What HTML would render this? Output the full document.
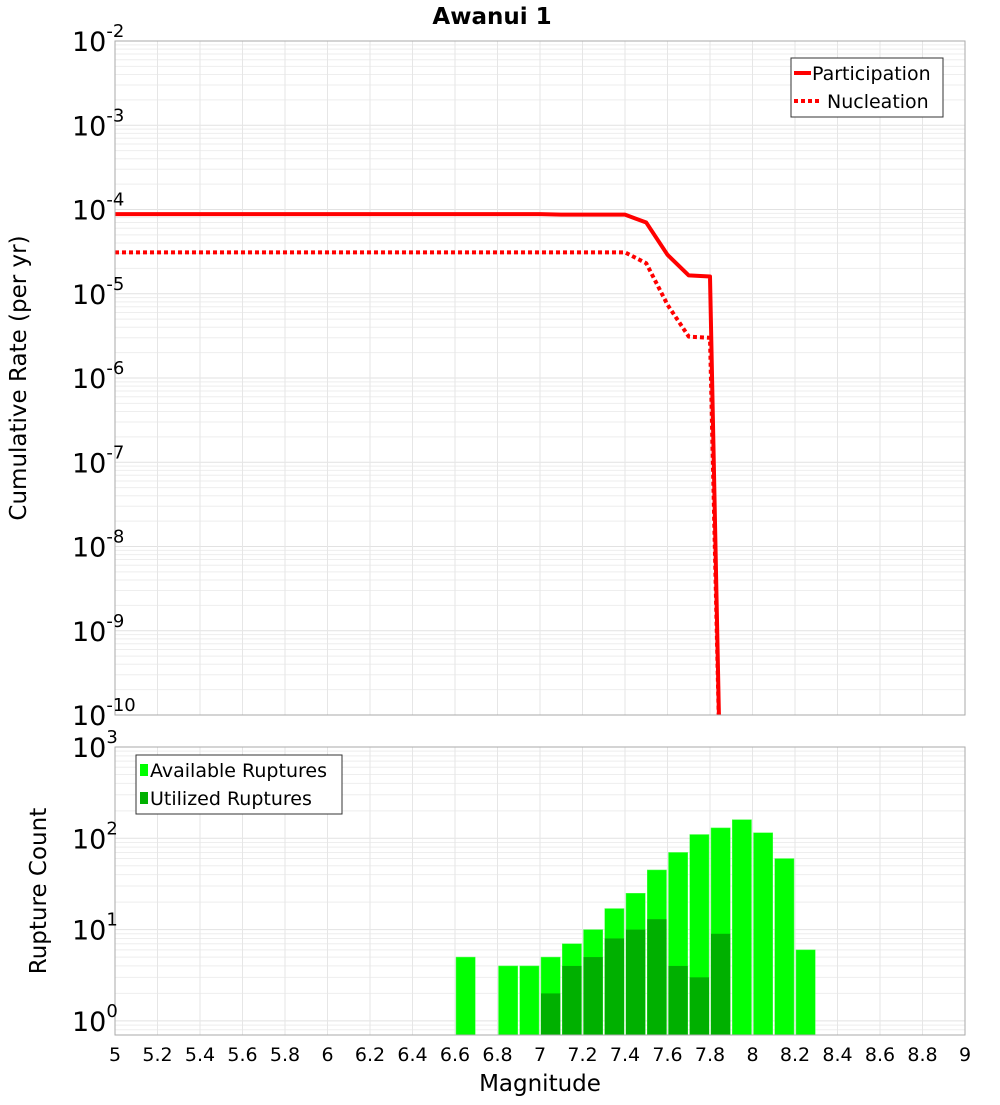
<!DOCTYPE html>
<html><head><meta charset="utf-8"><style>
body{margin:0;background:#fff}
text{font-family:"DejaVu Sans","Liberation Sans",sans-serif}
</style></head><body>
<svg id="c" width="1000" height="1100" xmlns="http://www.w3.org/2000/svg"></svg>
<script>
const magX=[5,5.1,5.2,5.3,5.4,5.5,5.6,5.7,5.8,5.9,6,6.1,6.2,6.3,6.4,6.5,6.6,6.7,6.8,6.9,7,7.1,7.2,7.3,7.4,7.5,7.6,7.7,7.8,7.85];
const partic=[8.8e-5,8.8e-5,8.8e-5,8.8e-5,8.8e-5,8.8e-5,8.8e-5,8.8e-5,8.8e-5,8.8e-5,8.8e-5,8.8e-5,8.8e-5,8.8e-5,8.8e-5,8.8e-5,8.8e-5,8.8e-5,8.8e-5,8.8e-5,8.8e-5,8.7e-5,8.7e-5,8.7e-5,8.7e-5,7e-5,2.9e-5,1.65e-5,1.6e-5,1e-11];
const nucl=[3.1e-5,3.1e-5,3.1e-5,3.1e-5,3.1e-5,3.1e-5,3.1e-5,3.1e-5,3.1e-5,3.1e-5,3.1e-5,3.1e-5,3.1e-5,3.1e-5,3.1e-5,3.1e-5,3.1e-5,3.1e-5,3.1e-5,3.1e-5,3.1e-5,3.1e-5,3.1e-5,3.1e-5,3.1e-5,2.3e-5,7.4e-6,3.1e-6,3e-6,1e-11];
const binCenters=[6.65,6.85,6.95,7.05,7.15,7.25,7.35,7.45,7.55,7.65,7.75,7.85,7.95,8.05,8.15,8.25];
const available=[5,4,4,5,7,10,17,25,45,70,110,130,160,115,60,6];
const utilized=[0,0,0,2,4,5,8,10,13,4,3,9,0,0,0,0];
const xTicks=[5,5.2,5.4,5.6,5.8,6,6.2,6.4,6.6,6.8,7,7.2,7.4,7.6,7.8,8,8.2,8.4,8.6,8.8,9];
const topExp=[-2,-3,-4,-5,-6,-7,-8,-9,-10];
const botExp=[3,2,1,0];

const NS="http://www.w3.org/2000/svg",svg=document.getElementById('c');
function el(t,a,p){const e=document.createElementNS(NS,t);for(const k in a)e.setAttribute(k,a[k]);(p||svg).appendChild(e);return e;}
const L=115,R=965;
const X=m=>L+(m-5)/4*(R-L);
const T1=41,B1=715,Y1=v=>T1+(-2-Math.log10(v))*(B1-T1)/8;
const T2=747,B2=1035,Y2=v=>T2+(3-Math.log10(v))*91.3;

function grid(top,bot,Yf,eMin,eMax){
  const g=el('g',{});
  for(let e=eMin;e<eMax;e++)for(let k=1;k<10;k++){const y=Yf(k*Math.pow(10,e));if(y<top||y>bot)continue;
    el('line',{x1:L,x2:R,y1:y,y2:y,stroke:k==1?'#e2e2e2':'#eeeeee','stroke-width':1},g);}
  xTicks.forEach(t=>{const x=X(t);el('line',{x1:x,x2:x,y1:top,y2:bot,stroke:'#e6e6e6','stroke-width':1},g);});
}
grid(T1,B1,Y1,-10,-2);grid(T2,B2,Y2,-1,3);

const clip=el('clipPath',{id:'cp1'});el('rect',{x:L,y:T1,width:R-L,height:B1-T1},clip);
function line(vals,dash,name){const p=el('polyline',{points:magX.map((m,i)=>X(m)+','+Y1(vals[i])).join(' '),fill:'none',stroke:'#ff0000','stroke-width':4,'clip-path':'url(#cp1)','stroke-linejoin':'round'});
  if(dash)p.setAttribute('stroke-dasharray','4,3');
  }
line(nucl,true,'nucleation-line');line(partic,false,'participation-line');

const bw=(X(5.1)-X(5))-2;
binCenters.forEach((c,i)=>{
  const x=X(c)-bw/2;
  if(available[i]>0){const r=el('rect',{x:x,y:Y2(available[i]),width:bw,height:B2-Y2(available[i]),fill:'#00ff00',stroke:'#55ff55','stroke-width':0.5});
    }
  if(utilized[i]>0){const r=el('rect',{x:x,y:Y2(utilized[i]),width:bw,height:B2-Y2(utilized[i]),fill:'#00b000'});
    }
});

el('rect',{x:L,y:T1,width:R-L,height:B1-T1,fill:'none',stroke:'#aaa'});
el('rect',{x:L,y:T2,width:R-L,height:B2-T2,fill:'none',stroke:'#aaa'});

function ylab(y,e,name){const t=el('text',{x:72,y:y+10,'text-anchor':'start','font-size':27});
  
  t.textContent='10';const s=el('tspan',{dy:-14,'font-size':18},t);s.textContent=String(e);}
topExp.forEach(e=>ylab(Y1(Math.pow(10,e)),e,'y-tick-label'));
botExp.forEach(e=>ylab(Y2(Math.pow(10,e)),e,'y-tick-label-bottom'));

xTicks.forEach(t=>{const tx=el('text',{x:X(t),y:1061,'text-anchor':'middle','font-size':19});tx.textContent=String(t);
  });

function txt(s,a,name){const t=el('text',a);t.textContent=s;return t;}
txt('Awanui 1',{x:492,y:24,'text-anchor':'middle','font-size':23,'font-weight':'bold'},'chart-title');
txt('Magnitude',{x:540,y:1091,'text-anchor':'middle','font-size':23},'x-axis-title');
txt('Cumulative Rate (per yr)',{x:0,y:0,transform:'translate(26,378) rotate(-90)','text-anchor':'middle','font-size':23},'y-axis-title');
txt('Rupture Count',{x:0,y:0,transform:'translate(46,891) rotate(-90)','text-anchor':'middle','font-size':23},'y-axis-title-bottom');

const lg=el('g',{});
el('rect',{x:791,y:58,width:152,height:59,fill:'#fff',stroke:'#333'},lg);
el('line',{x1:794,x2:811,y1:73,y2:73,stroke:'#f00','stroke-width':4},lg);
el('line',{x1:794,x2:822,y1:101,y2:101,stroke:'#f00','stroke-width':4,'stroke-dasharray':'4,3'},lg);
txt('Participation',{x:812,y:80,'font-size':19},'legend-entry');
txt('Nucleation',{x:827,y:108,'font-size':19},'legend-entry');
const lg2=el('g',{});
el('rect',{x:136,y:755,width:206,height:59,fill:'#fff',stroke:'#333'},lg2);
el('rect',{x:140,y:764,width:8,height:12,fill:'#00ff00'},lg2);
el('rect',{x:140,y:792,width:8,height:12,fill:'#00b000'},lg2);
txt('Available Ruptures',{x:150,y:777,'font-size':19},'legend-entry');
txt('Utilized Ruptures',{x:150,y:805,'font-size':19},'legend-entry');
</script>
</body></html>
